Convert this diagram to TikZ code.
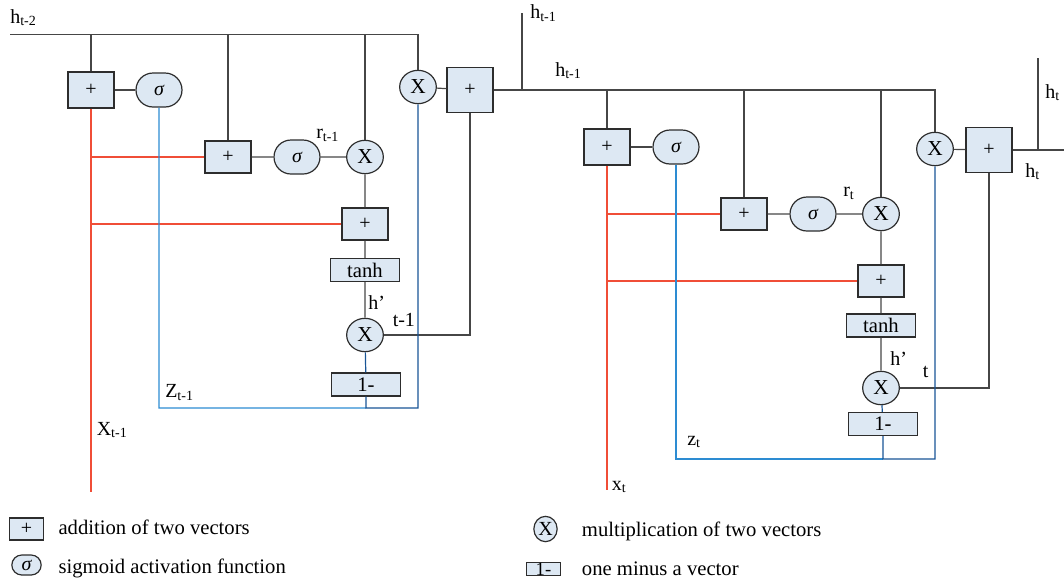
\documentclass[tikz,border=0pt]{standalone}
\usepackage{fontspec}
\setmainfont{Liberation Serif}
\usetikzlibrary{shapes.geometric,shapes.misc}
\definecolor{cellfill}{RGB}{221,232,243}
\definecolor{celldraw}{RGB}{45,45,45}
\definecolor{wire}{RGB}{70,70,70}
\definecolor{xred}{RGB}{240,78,55}
\definecolor{zlight}{RGB}{45,140,210}
\definecolor{zdark}{RGB}{25,85,150}
\begin{document}
\begin{tikzpicture}[x=0.75pt,y=-0.75pt,
  addbox/.style={draw=celldraw, fill=cellfill, line width=0.9pt, inner sep=0pt, minimum width=34.5pt, minimum height=24pt, font=\fontsize{15}{18}\selectfont},
  sigbox/.style={rounded rectangle, draw=celldraw, fill=cellfill, line width=0.9pt, inner sep=0pt, minimum width=34.5pt, minimum height=25.5pt, font=\fontsize{15}{18}\selectfont\itshape},
  mulnode/.style={ellipse, draw=celldraw, fill=cellfill, line width=0.9pt, inner sep=0pt, minimum width=27.5pt, minimum height=25pt, font=\fontsize{16}{18}\selectfont},
  funbox/.style={draw=celldraw, fill=cellfill, line width=0.9pt, inner sep=0pt, minimum width=51.75pt, minimum height=17.25pt, font=\fontsize{15.5}{18}\selectfont},
  wireline/.style={draw=wire, line width=0.9pt},
  xline/.style={draw=xred, line width=0.9pt},
  zline/.style={draw=zlight, line width=0.9pt},
  zline2/.style={draw=zdark, line width=0.9pt},
  lbl/.style={inner sep=0pt, anchor=base west, font=\fontsize{15}{18}\selectfont},
  keytext/.style={inner sep=0pt, anchor=base west, font=\fontsize{15.5}{18}\selectfont}]
\useasboundingbox (0,0) rectangle (1064,586);

\node[addbox, minimum height=27pt] (a1) at (91,90) {+};
\node[sigbox] (s1) at (159,90) {σ};
\node[mulnode] (m0) at (418,87) {X};
\node[addbox, minimum height=33.5pt] (A1) at (470,90) {+};
\node[addbox] (a2) at (228,157) {+};
\node[sigbox] (s2) at (297,157) {σ};
\node[mulnode] (m1) at (365,157) {X};
\node[addbox] (a3) at (365,224) {+};
\node[funbox] (th1) at (365,270) {tanh};
\node[mulnode] (m2) at (365,335) {X};
\node[funbox] (om1) at (366,384.5) {1-};

\node[addbox, minimum height=27pt] (b1) at (607,147) {+};
\node[sigbox] (t1) at (676,147) {σ};
\node[mulnode] (n0) at (935,149) {X};
\node[addbox, minimum height=33.5pt] (B1) at (989,150) {+};
\node[addbox] (b2) at (744,214) {+};
\node[sigbox] (t2) at (813,214) {σ};
\node[mulnode] (n1) at (881,214) {X};
\node[addbox] (b3) at (881,281) {+};
\node[funbox] (th2) at (881,325.5) {tanh};
\node[mulnode] (n2) at (881,388) {X};
\node[funbox] (om2) at (883,424) {1-};

\coordinate (hin) at (10,34.5);
\coordinate (hup1) at (522,13);
\coordinate (xend1) at (91,492);
\coordinate (zb1) at (159,408);
\coordinate (hup2) at (1038,58);
\coordinate (hout) at (1064,150);
\coordinate (xend2) at (607,490);
\coordinate (zb2) at (676,459);

\draw[wireline] (hin) -- (hin -| m0) -- (m0);
\draw[wireline] (a1) -- (a1 |- hin);
\draw[wireline] (a2) -- (a2 |- hin);
\draw[wireline] (m1) -- (m1 |- hin);
\draw[wireline] (a1) -- (s1);
\draw[wireline] (a2) -- (s2) -- (m1) -- (a3) -- (th1) -- (m2);
\draw[wireline] (m0) -- (A1);
\draw[wireline] (m2) -- (m2 -| A1) -- (A1);
\draw[wireline] (A1.east) -- (A1.east -| n0) -- (n0);
\draw[wireline] (hup1) -- (hup1 |- A1.east);
\draw[xline] (a1) -- (xend1);
\draw[xline] (a1 |- a2) -- (a2);
\draw[xline] (a1 |- a3) -- (a3);
\draw[zline] (s1) -- (zb1) -- (zb1 -| om1);
\draw[zline2] (m2) -- (om1) -- (om1 |- zb1) -- (zb1 -| m0) -- (m0);

\draw[wireline] (b1) -- (b1 |- A1.east);
\draw[wireline] (b2) -- (b2 |- A1.east);
\draw[wireline] (n1) -- (n1 |- A1.east);
\draw[wireline] (b1) -- (t1);
\draw[wireline] (b2) -- (t2) -- (n1) -- (b3) -- (th2) -- (n2);
\draw[wireline] (n0) -- (B1);
\draw[wireline] (B1) -- (hout);
\draw[wireline] (hup2) -- (hup2 |- hout);
\draw[wireline] (n2) -- (n2 -| B1) -- (B1);
\draw[xline] (b1) -- (xend2);
\draw[xline] (b1 |- b2) -- (b2);
\draw[xline] (b1 |- b3) -- (b3);
\draw[zline] (t1) -- (zb2) -- (zb2 -| om2);
\draw[zline2] (n2) -- (om2) -- (om2 |- zb2) -- (zb2 -| n0) -- (n0);

\node[lbl] (l1) at (10,23) {h\textsubscript{t-2}};
\node[lbl] (l2) at (530,18.5) {h\textsubscript{t-1}};
\node[lbl] (l3) at (555,76) {h\textsubscript{t-1}};
\node[lbl] (l4) at (316,138.5) {r\textsubscript{t-1}};
\node[lbl] (l5) at (368,309) {h’};
\node[lbl] (l6) at (392.5,326) {t-1};
\node[lbl] (l7) at (165,397.5) {Z\textsubscript{t-1}};
\node[lbl] (l8) at (96.5,435) {X\textsubscript{t-1}};
\node[lbl] (l9) at (1045,98) {h\textsubscript{t}};
\node[lbl] (l10) at (1025,177) {h\textsubscript{t}};
\node[lbl] (l11) at (843,196.5) {r\textsubscript{t}};
\node[lbl] (l12) at (890,365) {h’};
\node[lbl] (l13) at (922.5,377) {t};
\node[lbl] (l14) at (687,445) {z\textsubscript{t}};
\node[lbl] (l15) at (611.5,490) {x\textsubscript{t}};

\node[addbox, minimum width=26pt, minimum height=16.5pt] (k1) at (26.5,529) {+};
\node[sigbox, minimum width=22pt, minimum height=15pt] (k2) at (26.5,565) {σ};
\node[mulnode, minimum width=17.5pt, minimum height=19pt, font=\fontsize{15}{18}\selectfont] (k3) at (545.5,529) {X};
\node[funbox, minimum width=25pt, minimum height=9pt, font=\fontsize{14}{16}\selectfont] (k4) at (543.5,569) {1-};
\node[keytext] (kt1) at (58.3,534.5) {addition of two vectors};
\node[keytext] (kt2) at (58.3,573) {sigmoid activation function};
\node[keytext] (kt3) at (581.7,536.7) {multiplication of two vectors};
\node[keytext] (kt4) at (581.7,575) {one minus a vector};
\end{tikzpicture}
\end{document}
